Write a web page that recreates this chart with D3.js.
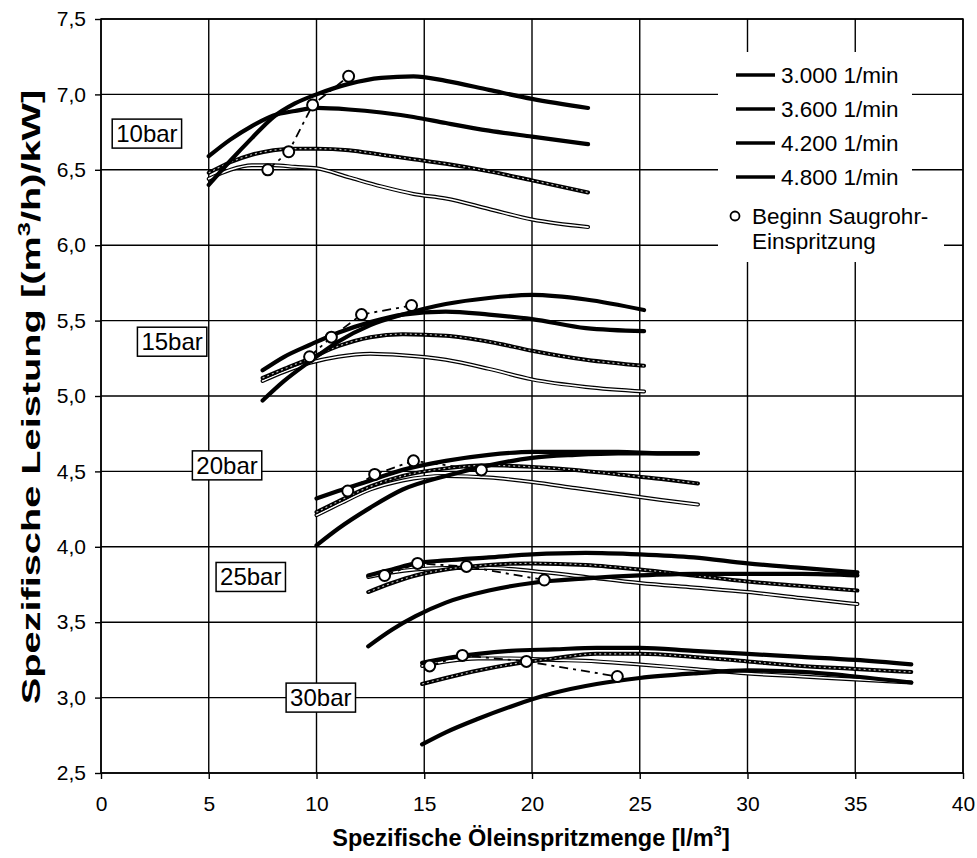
<!DOCTYPE html>
<html><head><meta charset="utf-8">
<script src="https://cdn.jsdelivr.net/npm/d3@7"></script>
<style>body{margin:0;background:#fff}svg{display:block}text{font-family:"Liberation Sans",Arial,sans-serif}</style>
</head><body><svg id="c" width="977" height="858"></svg>
<script>
// ---- data ----
const xTicks = [0,5,10,15,20,25,30,35,40];
const yTicks = [2.5,3.0,3.5,4.0,4.5,5.0,5.5,6.0,6.5,7.0,7.5];
const speeds = ["3.000 1/min","3.600 1/min","4.200 1/min","4.800 1/min"];
const pressures = ["10bar","15bar","20bar","25bar","30bar"];
const legendMarker = ["Beginn Saugrohr-","Einspritzung"];

// 10 bar
const xs10   = [5,6,7,8,9,10,11.5,13,14.5,16,18,20,22.6];
const y10_a  = [6.40,6.56,6.71,6.85,6.94,7.00,7.07,7.11,7.12,7.09,7.03,6.97,6.91];
const y10_b  = [6.59,6.70,6.79,6.86,6.89,6.91,6.90,6.88,6.85,6.81,6.76,6.72,6.67];
const y10_c  = [6.48,6.55,6.60,6.63,6.64,6.64,6.63,6.60,6.57,6.54,6.49,6.43,6.35];
const y10_d  = [6.44,6.50,6.53,6.53,6.52,6.51,6.45,6.39,6.34,6.31,6.24,6.17,6.12];
const m10_x  = [7.74,8.71,9.82,11.49];
const m10_y  = [6.50,6.62,6.93,7.12];
// 15 bar
const xs15   = [7.5,8.5,9.7,11,12.5,14,16,18,20,22.5,25.2];
const y15_a  = [4.97,5.10,5.23,5.36,5.47,5.54,5.61,5.65,5.67,5.64,5.57];
const y15_b  = [5.17,5.26,5.34,5.42,5.49,5.54,5.56,5.54,5.51,5.45,5.43];
const y15_c  = [5.12,5.18,5.25,5.33,5.39,5.41,5.40,5.36,5.30,5.24,5.20];
const y15_d  = [5.10,5.16,5.22,5.26,5.28,5.27,5.24,5.18,5.11,5.06,5.03];
const m15_x  = [9.68,10.69,12.09,14.41];
const m15_y  = [5.26,5.39,5.54,5.60];
// 20 bar
const xs20   = [10,11,12.5,14,16,18,20,22,24,26,27.7];
const y20_a  = [4.01,4.12,4.26,4.38,4.47,4.54,4.59,4.61,4.62,4.62,4.62];
const y20_b  = [4.32,4.37,4.44,4.51,4.57,4.61,4.63,4.63,4.63,4.62,4.62];
const y20_c  = [4.23,4.30,4.40,4.47,4.52,4.54,4.53,4.51,4.48,4.45,4.42];
const y20_d  = [4.21,4.28,4.38,4.44,4.47,4.46,4.43,4.39,4.35,4.31,4.28];
const m20_x  = [11.45,12.70,14.50,17.65];
const m20_y  = [4.37,4.48,4.57,4.51];
// 25 bar
const xs25   = [12.4,13.5,14.6,16,18,20,22.5,25,27.5,30,32.5,35.1];
const y25_a  = [3.34,3.45,3.54,3.63,3.71,3.76,3.79,3.81,3.82,3.82,3.82,3.81];
const y25_b  = [3.81,3.85,3.89,3.91,3.93,3.95,3.96,3.95,3.93,3.89,3.86,3.83];
const y25_c  = [3.70,3.76,3.81,3.85,3.88,3.89,3.88,3.85,3.81,3.77,3.74,3.71];
const y25_d  = [3.80,3.83,3.85,3.86,3.86,3.84,3.80,3.76,3.73,3.70,3.66,3.62];
const m25_x  = [13.16,14.69,16.96,20.57];
const m25_y  = [3.81,3.89,3.87,3.78];
// 30 bar
const xs30   = [14.9,16,17.5,19,21,23,25,27.5,30,32.5,35,37.6];
const y30_a  = [2.69,2.77,2.86,2.94,3.03,3.09,3.13,3.16,3.18,3.17,3.14,3.10];
const y30_b  = [3.23,3.26,3.29,3.31,3.32,3.33,3.33,3.31,3.29,3.27,3.25,3.22];
const y30_c  = [3.09,3.13,3.18,3.22,3.26,3.29,3.29,3.27,3.24,3.21,3.19,3.17];
const y30_d  = [3.21,3.24,3.26,3.26,3.25,3.24,3.22,3.19,3.16,3.14,3.12,3.10];
const m30_x  = [15.25,16.77,19.74,23.96];
const m30_y  = [3.21,3.28,3.24,3.14];

// label anchor values (data units) for pressure boxes
const labX = [2.13,3.30,5.85,6.95,10.20];
const labY = [6.74,5.36,4.54,3.80,3.00];

// ---- build ----
const groups = [
  {xs:xs10, ys:[y10_a,y10_b,y10_c,y10_d], mx:m10_x, my:m10_y},
  {xs:xs15, ys:[y15_a,y15_b,y15_c,y15_d], mx:m15_x, my:m15_y},
  {xs:xs20, ys:[y20_a,y20_b,y20_c,y20_d], mx:m20_x, my:m20_y},
  {xs:xs25, ys:[y25_a,y25_b,y25_c,y25_d], mx:m25_x, my:m25_y},
  {xs:xs30, ys:[y30_a,y30_b,y30_c,y30_d], mx:m30_x, my:m30_y}
];

const L=101,R=963,T=19,B=773;
const svg=d3.select("#c");
const x=d3.scaleLinear().domain([0,40]).range([L,R]);
const y=d3.scaleLinear().domain([2.5,7.5]).range([B,T]);
const fmt=d3.format(".1f");

// grid
svg.append("g").selectAll("line").data(xTicks).join("line")
  .attr("x1",d=>x(d)).attr("x2",d=>x(d)).attr("y1",T).attr("y2",B)
  .attr("stroke","#000").attr("stroke-width",1.4);
svg.append("g").selectAll("line").data(yTicks).join("line")
  .attr("x1",L).attr("x2",R).attr("y1",d=>y(d)).attr("y2",d=>y(d))
  .attr("stroke","#000").attr("stroke-width",1.4);

// axes
const xa=svg.append("g").attr("transform",`translate(0,${B})`)
  .call(d3.axisBottom(x).tickValues(xTicks).tickSize(6).tickPadding(17).tickFormat(d3.format("d")));
const ya=svg.append("g").attr("transform",`translate(${L},0)`)
  .call(d3.axisLeft(y).tickValues(yTicks).tickSize(6).tickPadding(9).tickFormat(d=>fmt(d).replace(".",",")));
[xa,ya].forEach(a=>{a.select(".domain").remove();a.selectAll("line").attr("stroke","#000").attr("stroke-width",1.4);
  a.selectAll("text").attr("font-size",21).attr("fill","#000").style("font-family",'"Liberation Sans",Arial,sans-serif');});

// legend background
svg.append("rect").attr("x",718).attr("y",52).attr("width",194).attr("height",150).attr("fill","#fff");
svg.append("rect").attr("x",718).attr("y",200).attr("width",226).attr("height",62).attr("fill","#fff");

// curves
const line=d3.line().x(d=>x(d[0])).y(d=>y(d[1])).curve(d3.curveMonotoneX);
const styleOrder=[3,2,1,0];
groups.forEach(g=>{
  styleOrder.forEach(k=>{
    const pts=g.xs.map((v,i)=>[v,g.ys[k][i]]);
    const p=line(pts);
    svg.append("path").attr("d",p).attr("fill","none").attr("stroke","#000")
      .attr("stroke-width",k<2?4.2:4).attr("stroke-linecap","round").attr("stroke-linejoin","round");
    if(k===2) svg.append("path").attr("d",p).attr("fill","none").attr("stroke","#bbb")
      .attr("stroke-width",1.2).attr("stroke-dasharray","2,3");
    if(k===3) svg.append("path").attr("d",p).attr("fill","none").attr("stroke","#fff")
      .attr("stroke-width",1.6).attr("stroke-linecap","round");
  });
  const mp=g.mx.map((v,i)=>[v,g.my[i]]);
  svg.append("path").attr("d",d3.line().x(d=>x(d[0])).y(d=>y(d[1]))(mp)).attr("fill","none")
    .attr("stroke","#000").attr("stroke-width",1.8).attr("stroke-dasharray","9,5,3,5");
  svg.append("g").selectAll("circle").data(mp).join("circle")
    .attr("cx",d=>x(d[0])).attr("cy",d=>y(d[1])).attr("r",5.5)
    .attr("fill","#fff").attr("stroke","#000").attr("stroke-width",2);
});

// pressure labels
pressures.forEach((t,i)=>{
  const gx=x(labX[i]),gy=y(labY[i]);
  const grp=svg.append("g");
  const rect=grp.append("rect");
  const tx=grp.append("text").attr("x",gx).attr("y",gy+8.5).attr("text-anchor","middle")
    .attr("font-size",24).text(t);
  const bb=tx.node().getBBox();
  rect.attr("x",bb.x-4).attr("y",bb.y-1).attr("width",bb.width+8).attr("height",bb.height+2)
    .attr("fill","#fff").attr("stroke","#000").attr("stroke-width",1.5);
});

// legend
const ly=[75,109,143,177];
speeds.forEach((s,i)=>{
  svg.append("line").attr("x1",736).attr("x2",775).attr("y1",ly[i]).attr("y2",ly[i])
    .attr("stroke","#000").attr("stroke-width",3.5);
  svg.append("text").attr("x",781).attr("y",ly[i]+8).attr("font-size",22.5).text(s);
});
svg.append("circle").attr("cx",735).attr("cy",216).attr("r",4.5).attr("fill","none").attr("stroke","#000").attr("stroke-width",1.8);
svg.append("text").attr("x",752).attr("y",224).attr("font-size",22.5).text(legendMarker[0]);
svg.append("text").attr("x",752).attr("y",249).attr("font-size",22.5).text(legendMarker[1]);

// frame
svg.append("rect").attr("x",L).attr("y",T).attr("width",R-L).attr("height",B-T)
  .attr("fill","none").attr("stroke","#000").attr("stroke-width",1.5);

// axis titles
const xt=svg.append("text").attr("x",531).attr("y",846).attr("text-anchor","middle")
  .attr("font-size",23.5).attr("font-weight","bold");
xt.append("tspan").text("Spezifische Öleinspritzmenge [l/m");
xt.append("tspan").attr("font-size",15).attr("dy",-10).text("3");
xt.append("tspan").attr("dy",10).text("]");
const yt=svg.append("text").attr("transform",`translate(40,397) rotate(-90)`).attr("text-anchor","middle")
  .attr("font-size",25).attr("font-weight","bold");
yt.append("tspan").text("Spezifische Leistung [(m");
yt.append("tspan").attr("font-size",16).attr("dy",-10).text("3");
yt.append("tspan").attr("dy",10).text("/h)/kW]");
// stretch y-title along its length as in the original
const ytLen=yt.node().getComputedTextLength();
yt.attr("transform",`translate(40,397) rotate(-90) scale(${615/ytLen},1)`);
</script></body></html>
